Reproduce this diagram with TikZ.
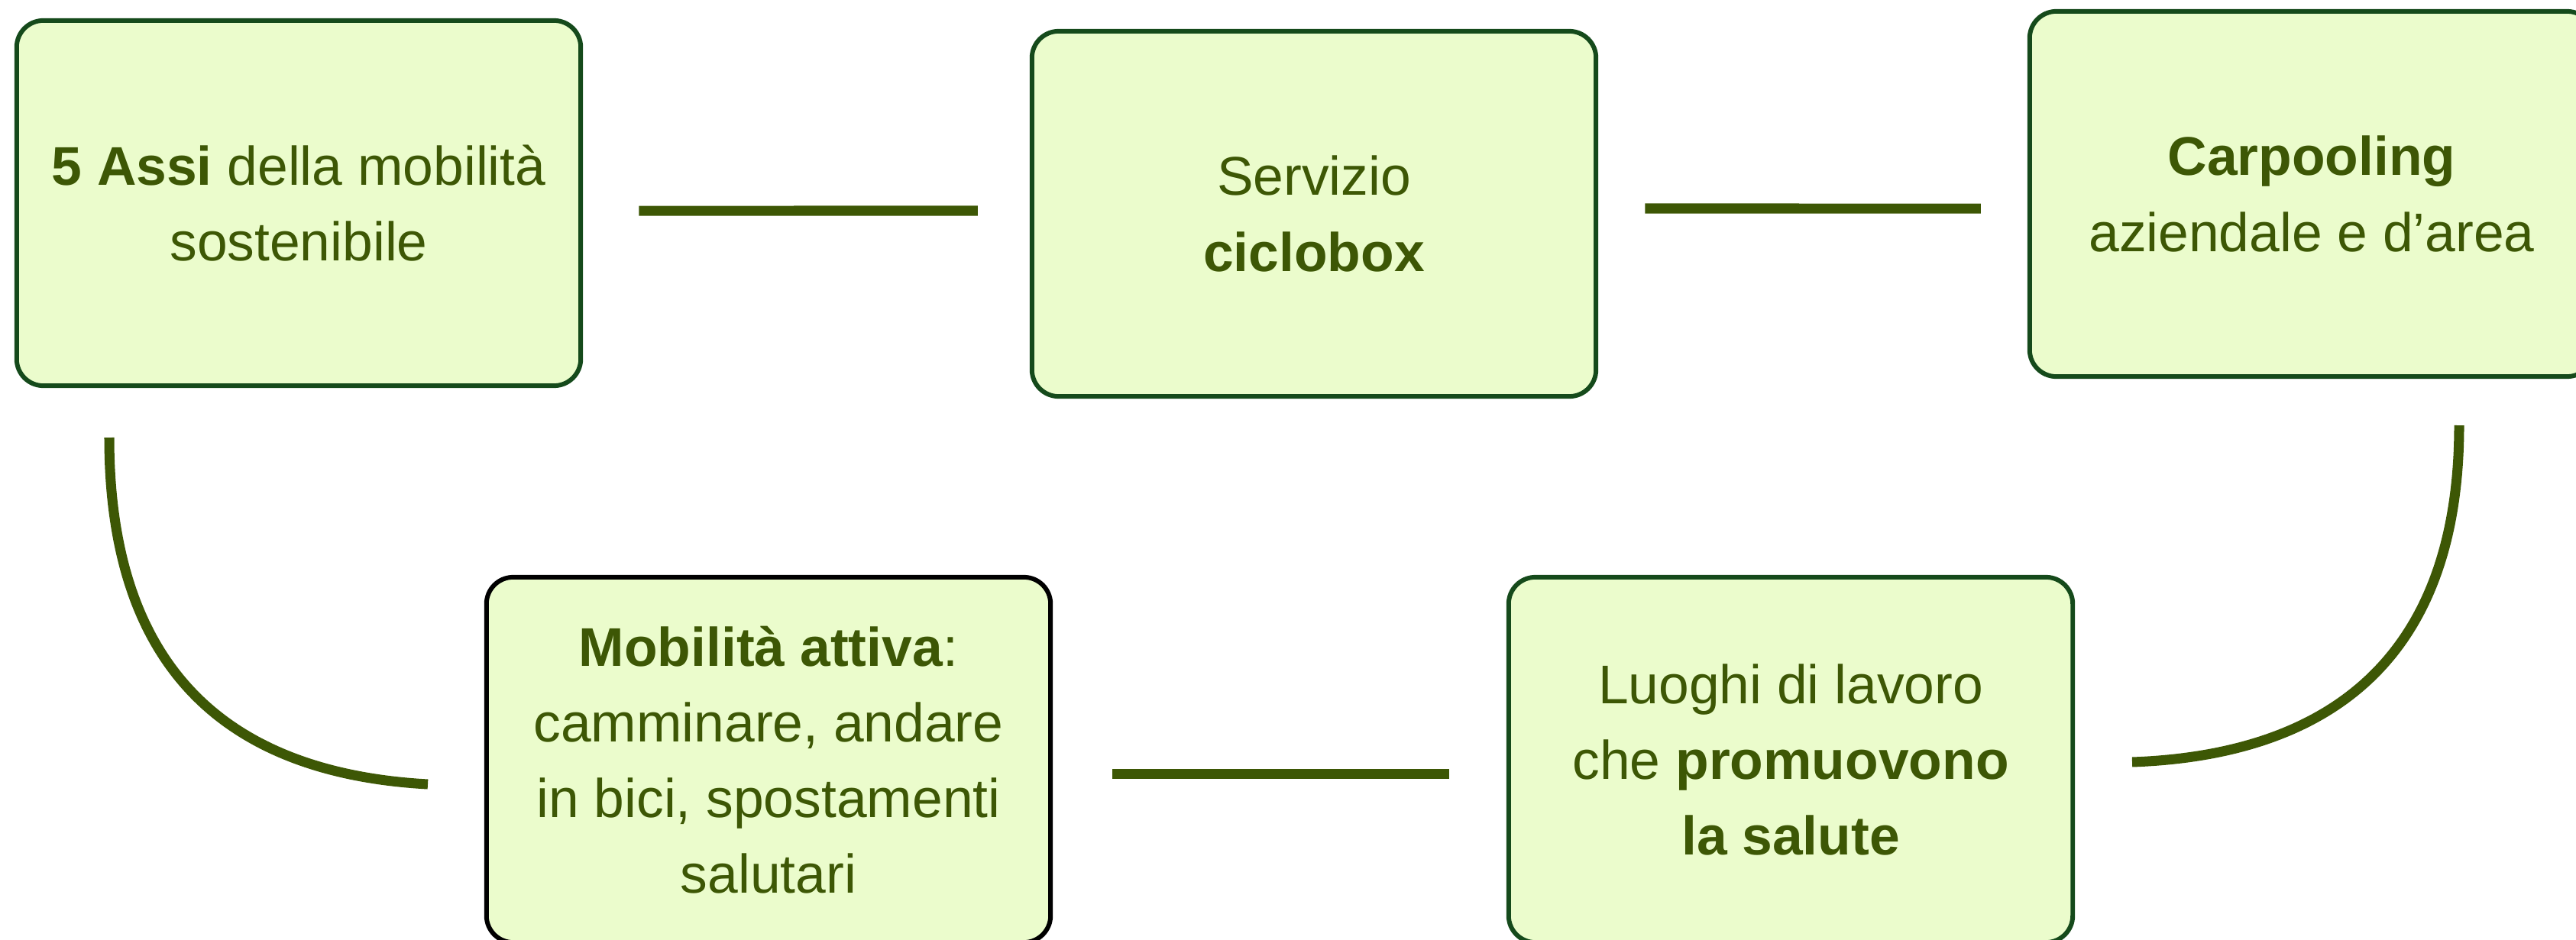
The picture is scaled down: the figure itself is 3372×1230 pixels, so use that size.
\documentclass[tikz,border=0pt]{standalone}
\usepackage{fontspec}
\setmainfont{Liberation Sans}
\definecolor{boxfill}{HTML}{EBFCCC}
\definecolor{boxline}{HTML}{154A1B}
\definecolor{leaf}{HTML}{3D5705}
\tikzset{
  box/.style={draw=boxline, line width=1.7pt, fill=boxfill, rounded corners=0.35cm,
    minimum width=7.38cm, minimum height=4.78cm, align=center, text=leaf,
    font=\fontsize{20.3pt}{28.2pt}\selectfont},
  link/.style={draw=leaf, line width=3.7pt}
}
\begin{document}
\begin{tikzpicture}[x=0.01cm, y=-0.01cm]
\useasboundingbox (0,0) rectangle (3372,1230);
\clip (0,0) rectangle (3372,1230);
% Boxes
\node[box] (assi) at (391,266) {\textbf{5 Assi} della mobilità\\sostenibile};
\node[box] (ciclo) at (1720,280) {Servizio\\\textbf{ciclobox}};
\node[box] (carpool) at (3026,254) {\textbf{Carpooling}\\aziendale e d’area};
\node[box, draw=black] (attiva) at (1006,995) {\textbf{Mobilità attiva}:\\camminare, andare\\in bici, spostamenti\\salutari};
\node[box] (luoghi) at (2344,995) {Luoghi di lavoro\\che \textbf{promuovono}\\\textbf{la salute}};
% Straight connectors
\draw[link, shorten <=0.73cm, shorten >=0.68cm] ([yshift=-0.1cm]assi.east) -- ([yshift=0.04cm]ciclo.west);
\draw[link, shorten <=0.61cm, shorten >=0.61cm] ([yshift=0.07cm]ciclo.east) -- ([yshift=-0.19cm]carpool.west);
\draw[link, shorten <=0.78cm, shorten >=0.75cm] ([yshift=-0.18cm]attiva.east) -- ([yshift=-0.18cm]luoghi.west);
% Curved connectors
\coordinate (la) at (143,573);
\coordinate (lb) at (560,1027);
\draw[link] (la) .. controls (143,868) and (289,1012) .. (lb);
\coordinate (ra) at (3219,557);
\coordinate (rb) at (2791,998);
\draw[link] (ra) .. controls (3219,844) and (3069,988) .. (rb);
\end{tikzpicture}
\end{document}
